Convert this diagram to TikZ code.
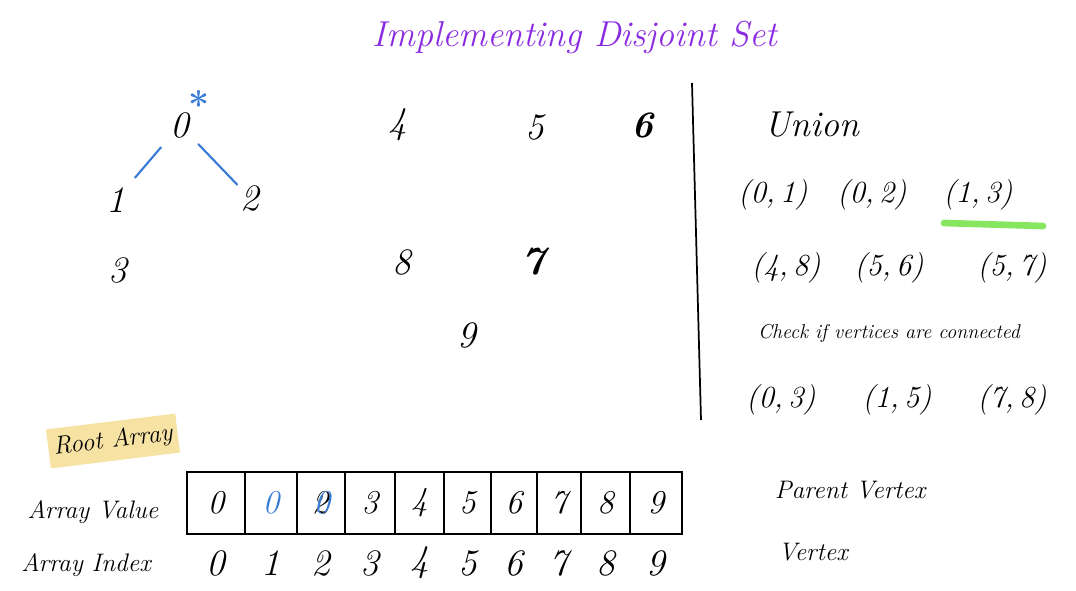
\documentclass[tikz,border=0pt]{standalone}
\usepackage{tikz}
\usetikzlibrary{arrows.meta,positioning}
\definecolor{titlecol}{HTML}{8A2BE2}
\definecolor{linkcol}{HTML}{3A7BD5}
\definecolor{markcol}{HTML}{86E660}
\definecolor{notecol}{HTML}{F6E3A3}

\begin{document}
\begin{tikzpicture}[x=0.75pt,y=-0.75pt,
  digit/.style={font=\fontsize{28}{32}\selectfont\itshape,inner sep=1pt},
  word/.style={font=\fontsize{19}{23}\selectfont\itshape,inner sep=1pt},
  pair/.style={font=\fontsize{23}{27}\selectfont\itshape,inner sep=1pt},
  cell/.style={draw,line width=1.3pt,minimum height=46.5pt,inner sep=0pt,font=\fontsize{25}{29}\selectfont\itshape}]
  \useasboundingbox[fill=white] (0,0) rectangle (1076,590);
  % title
  \node[font=\fontsize{27}{32}\selectfont\itshape,text=titlecol] (title) at (575,37) {Implementing Disjoint Set};
  % first set: 0 is the root of 1 and 2
  \node[digit] (n0) at (180,125) {0};
  \node[text=linkcol,font=\fontsize{28}{32}\selectfont\bfseries] (star) at (199,104) {*};
  \node[digit] (n1) at (116,200) {1};
  \node[digit] (n2) at (250,198) {2};
  \node[digit] (n3) at (118,270) {3};
  \draw[linkcol,line width=1.6pt,line cap=round,shorten <=22pt,shorten >=22pt] (n1.center) -- (n0.center);
  \draw[linkcol,line width=1.6pt,line cap=round,shorten <=20pt,shorten >=14pt] (n0.center) -- (n2.center);
  % the other vertices, each still its own root
  \node[digit] (n4) at (398,125) {4};
  \node[digit] (n5) at (535,127) {5};
  \node[digit,font=\fontsize{28}{32}\selectfont\bfseries\itshape] (n6) at (643,125) {6};
  \node[digit] (n8) at (402,262) {8};
  \node[digit,font=\fontsize{30}{34}\selectfont\bfseries\itshape] (n7) at (533,262) {7};
  \node[digit] (n9) at (467,335) {9};
  % divider
  \draw[line width=1.3pt] (692,83) -- (701,420);
  % union and find lists
  \node[font=\fontsize{27}{32}\selectfont\itshape] (union) at (812,125) {Union};
  \foreach \x/\t [count=\k] in {773/{(0,\,1)},872/{(0,\,2)},978/{(1,\,3)}}
    \node[pair] (ua\k) at (\x,195) {\t};
  \foreach \x/\t [count=\k] in {786/{(4,\,8)},889/{(5,\,6)},1012/{(5,\,7)}}
    \node[pair] (ub\k) at (\x,268) {\t};
  \draw[markcol,line width=5pt,line cap=round] (944,223) -- (1043,226);
  \node[font=\fontsize{15}{18}\selectfont\itshape] (check) at (889,333) {Check if vertices are connected};
  \foreach \x/\t [count=\k] in {781/{(0,\,3)},897/{(1,\,5)},1012/{(7,\,8)}}
    \node[pair] (uc\k) at (\x,400) {\t};
  % root array
  \node[word,fill=notecol,rotate=7,inner xsep=4pt,inner ysep=6pt] (rootlbl) at (113,441) {Root Array};
  \node[word] (vallbl) at (93,512) {Array Value};
  \node[word] (idxlbl) at (86,565) {Array Index};
  \foreach \l/\r/\v [count=\i from 0] in {187/245/0,245/297/\textcolor{linkcol}{0},297/345/{2\kern-0.45em\textcolor{linkcol}{0}},
      345/395/3,395/444/4,444/491/5,491/537/6,537/581/7,581/630/8,630/682/9} {
    \node[cell,minimum width={(\r-\l)*0.75pt}] (c\i) at ({(\l+\r)/2},503) {\v};
    \node[digit] (i\i) at ({(\l+\r)/2},563) {\i};
  }
  \node[word] (parent) at (850,490) {Parent Vertex};
  \node[word] (vertex) at (813,552) {Vertex};
\end{tikzpicture}
\end{document}
